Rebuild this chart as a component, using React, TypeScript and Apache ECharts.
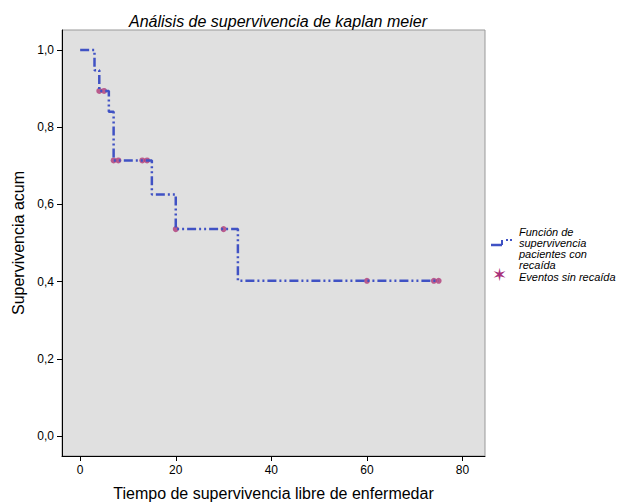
import React, { useEffect, useRef } from 'react';
import * as echarts from 'echarts';

// step curve (time, survival)
const stepTimes = [0, 3, 4, 6, 7, 15, 20, 33, 75];
const stepValues = [1.0, 0.948, 0.894, 0.84, 0.714, 0.626, 0.536, 0.402, 0.402];
// censored events (time, survival)
const censorTimes = [4, 5, 7, 8, 13, 14, 20, 30, 60, 74, 75];
const censorValues = [0.894, 0.894, 0.714, 0.714, 0.714, 0.714, 0.536, 0.536, 0.402, 0.402, 0.402];

const xTicks = [0, 20, 40, 60, 80];
const yTicks = [0, 0.2, 0.4, 0.6, 0.8, 1.0];

export default function App() {
    const chartRef = useRef<HTMLDivElement | null>(null);

    useEffect(() => {
        if (!chartRef.current) return;
        const chart = echarts.init(chartRef.current, undefined, { renderer: 'svg' });
        const font = 'Helvetica, Arial, "Liberation Sans", sans-serif';

        const option = {
            animation: false,
            backgroundColor: '#fff',
            title: {
                text: 'Análisis de supervivencia de kaplan meier',
                left: 265, top: 0, textAlign: 'center',
                textStyle: { fontSize: 16, fontStyle: 'italic', fontWeight: 'normal', color: '#000', fontFamily: font },
            },
            grid: {
                left: 54, top: 22, width: 423, height: 426, outerBoundsMode: 'none',
                backgroundColor: '#e0e0e0', show: true, borderColor: '#999', borderWidth: 1,
            },
            xAxis: {
                type: 'value', min: -3.8, max: 84.7,
                name: 'Tiempo de supervivencia libre de enfermedar',
                nameLocation: 'middle', nameGap: 29,
                nameTextStyle: { fontSize: 16, color: '#000', fontFamily: font },
                axisLine: { show: true, onZero: false, lineStyle: { color: '#000' } },
                axisTick: { show: true, customValues: xTicks, lineStyle: { color: '#000' } },
                axisLabel: { customValues: xTicks, color: '#000', fontSize: 12, fontFamily: font },
                splitLine: { show: false },
            },
            yAxis: {
                type: 'value', min: -0.052, max: 1.052,
                name: 'Supervivencia acum',
                nameLocation: 'middle', nameGap: 36,
                nameTextStyle: { fontSize: 16, color: '#000', fontFamily: font },
                axisLine: { show: true, onZero: false, lineStyle: { color: '#000' } },
                axisTick: { show: true, customValues: yTicks, lineStyle: { color: '#000' } },
                axisLabel: {
                    customValues: yTicks, color: '#000', fontSize: 12, fontFamily: font,
                    formatter: (v: number) => v.toFixed(1).replace('.', ','),
                },
                splitLine: { show: false },
            },
            series: [
                {
                    type: 'line', step: 'end', symbol: 'none',
                    data: stepTimes.map((t, i) => [t, stepValues[i]]),
                    lineStyle: { color: '#4052c4', width: 2.5, type: [9, 3, 2, 3, 2, 3] },
                },
                {
                    type: 'scatter', symbol: 'circle', symbolSize: 6,
                    data: censorTimes.map((t, i) => [t, censorValues[i]]),
                    itemStyle: { color: '#b03a78' },
                },
            ],
            graphic: [
                { type: 'line', shape: { x1: 483, y1: 237, x2: 494, y2: 237 }, style: { stroke: '#4052c4', lineWidth: 2.5 } },
                { type: 'line', shape: { x1: 494, y1: 237, x2: 494, y2: 232 }, style: { stroke: '#4052c4', lineWidth: 2 } },
                { type: 'line', shape: { x1: 498, y1: 232, x2: 504, y2: 232 }, style: { stroke: '#4052c4', lineWidth: 2, lineDash: [2, 2] } },
                {
                    type: 'text', x: 511, y: 218,
                    style: { text: 'Función de\nsupervivencia\npacientes con\nrecaída', font: `italic 11px ${font}`, fill: '#000', lineHeight: 11, verticalAlign: 'top' },
                },
                {
                    type: 'text', x: 484, y: 258,
                    style: { text: '✶', font: `18px ${font}`, fill: '#a8307a', verticalAlign: 'top' },
                },
                {
                    type: 'text', x: 511, y: 263,
                    style: { text: 'Eventos sin recaída', font: `italic 11px ${font}`, fill: '#000', verticalAlign: 'top' },
                },
            ],
        };

        chart.setOption(option);
        return () => chart.dispose();
    }, []);

    return <div ref={chartRef} style={{ width: 623, height: 494 }} />;
}
